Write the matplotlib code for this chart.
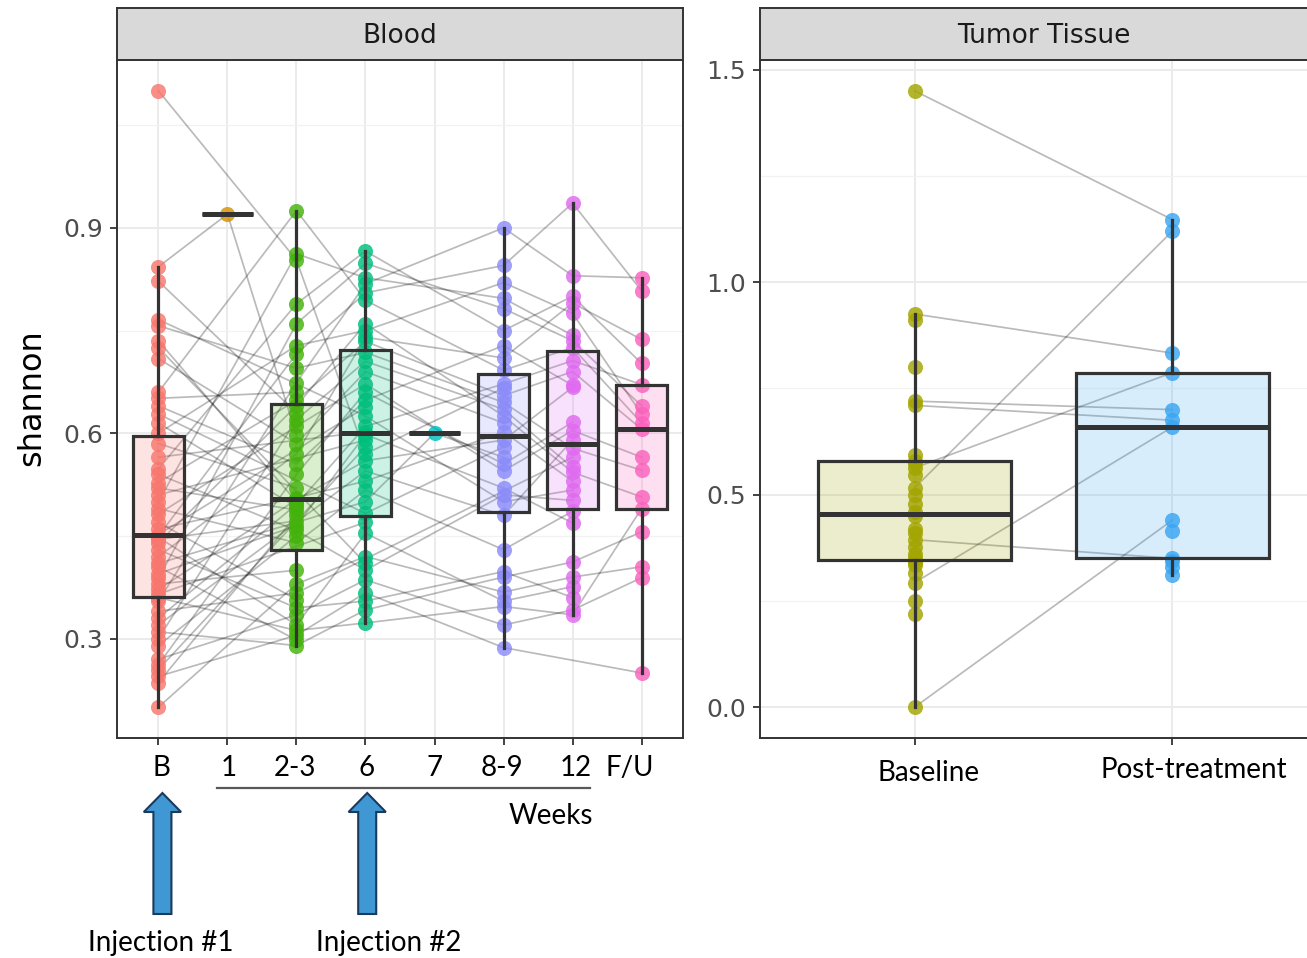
import numpy as np
import matplotlib
matplotlib.use("Agg")
import matplotlib.pyplot as plt
from matplotlib.patches import FancyArrow
from matplotlib.lines import Line2D
from matplotlib.transforms import blended_transform_factory
from matplotlib.colors import to_rgba

# ---------------- data ----------------
blood_categories = ["B", "1", "2-3", "6", "7", "8-9", "12", "F/U"]
blood_colors = ["#F8766D", "#D89000", "#44B20C", "#00BF7D",
                "#00BFC4", "#8C8CFA", "#E06AF0", "#FA62BC"]

# one entry per subject (None = no sample at that time point)
blood_B = [0.20, 0.236, 0.245, 0.255, 0.262, 0.27, 0.29, 0.30, 0.31, 0.32,
           0.33, 0.34, 0.355, 0.36, 0.365, 0.372, 0.38, 0.388, 0.395, 0.405,
           0.41, 0.42, 0.43, 0.44, 0.445, 0.448, 0.45, 0.452, 0.46, 0.47,
           0.482, 0.49, 0.50, 0.51, 0.52, 0.528, 0.54, 0.548, 0.565, 0.585,
           0.60, 0.615, 0.628, 0.64, 0.651, 0.66, 0.709, 0.725, 0.735, 0.757,
           0.766, 0.822, 0.843, 1.10]
blood_wk1 = [None] * 52 + [0.92, None]
blood_wk2_3 = [0.38, 0.48, 0.305, None, 0.54, 0.335, 0.45, 0.62, 0.29, None,
               0.496, 0.367, 0.674, 0.312, None, 0.503, 0.40, 0.76, 0.465, 0.298,
               None, 0.57, 0.345, 0.64, 0.472, 0.32, 0.716, None, 0.506, 0.357,
               0.61, 0.44, 0.862, None, 0.488, 0.648, 0.458, 0.789, None, 0.52,
               0.728, 0.492, None, 0.555, 0.66, 0.925, 0.585, None, 0.50, 0.695,
               None, 0.63, 0.597, 0.853]
blood_wk6 = [0.42, None, 0.367, 0.58, 0.66, 0.386, None, 0.705, 0.342, 0.545,
             0.61, None, 0.818, 0.323, 0.47, 0.56, None, 0.848, 0.598, None,
             0.50, 0.74, 0.355, 0.76, None, 0.454, 0.805, 0.638, 0.53, None,
             0.672, 0.517, 0.827, 0.59, None, 0.734, 0.40, 0.866, 0.602, None,
             0.75, None, 0.483, 0.648, None, 0.794, 0.69, 0.41, None, 0.718,
             0.625, None, None, 0.57]
blood_wk7 = [None] * 20 + [0.60] + [None] * 33
blood_wk8_9 = [0.368, None, 0.287, None, 0.555, 0.32, None, 0.635, 0.39, 0.48,
               0.672, None, 0.90, 0.347, None, 0.59, None, 0.782, 0.52, None,
               0.565, 0.71, 0.398, 0.625, None, 0.355, 0.845, None, 0.602, None,
               0.545, 0.43, 0.797, None, None, 0.655, 0.51, 0.75, None, None,
               0.82, None, 0.58, 0.728, None, 0.692, 0.615, None, None, 0.645,
               0.50, None, None, 0.666]
blood_wk12 = [0.39, None, None, None, 0.616, 0.342, None, 0.55, 0.412, 0.59,
              0.706, 0.565, 0.83, 0.335, None, 0.667, None, 0.735, 0.469, None,
              None, 0.79, 0.36, 0.543, None, 0.376, 0.936, None, 0.53, None,
              0.604, 0.486, 0.743, None, None, 0.69, 0.502, 0.80, None, None,
              0.775, None, None, 0.67, None, 0.725, None, None, None, 0.578,
              0.517, None, None, None]
blood_fu = [0.405, None, 0.25, None, None, 0.389, None, None, 0.456, None,
            0.671, None, 0.827, 0.49, None, None, None, 0.64, None, None,
            None, 0.737, None, 0.507, None, None, 0.808, None, None, None,
            0.565, None, None, None, None, 0.606, None, 0.702, None, None,
            0.628, None, None, None, None, 0.615, None, None, None, 0.546,
            None, None, None, None]

tumor_categories = ["Baseline", "Post-treatment"]
tumor_colors = ["#A3A500", "#3AA6F2"]
tumor_baseline = [1.45, 0.925, 0.91, 0.80, 0.72, 0.71, 0.594, 0.58, 0.574, 0.563,
                  0.547, 0.516, 0.50, 0.477, 0.458, 0.45, 0.418, 0.41, 0.394, 0.376,
                  0.36, 0.35, 0.345, 0.342, 0.335, 0.315, 0.293, 0.249, 0.22, 0.0,
                  None, None, None, None]
tumor_post = [1.147, 0.833, None, None, 0.70, 0.675, None, None, None, 0.787,
              None, 1.12, None, None, None, None, None, None, 0.35, None,
              None, None, None, None, None, None, 0.659, None, None, 0.44,
              0.31, 0.33, 0.345, 0.415]

blood_yticks = [0.3, 0.6, 0.9]
tumor_yticks = [0.0, 0.5, 1.0, 1.5]

# ---------------- layout helpers ----------------
W, H = 1307, 958
fig = plt.figure(figsize=(W / 100, H / 100), dpi=100)
fig.patch.set_facecolor("white")


def fx(px):
    return px / W


def fy(py):
    return 1 - py / H


axL = fig.add_axes([fx(117), fy(738), fx(683) - fx(117), fy(60) - fy(738)])
axR = fig.add_axes([fx(760), fy(738), fx(1327) - fx(760), fy(60) - fy(738)])

EDGE = "#333333"
TICKFONT = "DejaVu Sans"
ANNOTFONT = "Lato"
ANNOTSIZE = 20


def panel(ax, series, colors, yticks, ystep):
    allv = [v for s in series for v in s if v is not None]
    lo, hi = min(allv), max(allv)
    pad = 0.05 * (hi - lo)
    n = len(series)
    ax.set_facecolor("white")
    for sp in ax.spines.values():
        sp.set_color(EDGE)
        sp.set_linewidth(1.4)
    ax.set_xticks(range(n))
    ax.set_yticks(yticks)
    ax.set_yticklabels([f"{t:.1f}" for t in yticks], family=TICKFONT)
    minor = [t + ystep / 2 for t in [yticks[0] - ystep] + list(yticks)]
    ax.set_yticks(minor, minor=True)
    ax.grid(True, which="major", color="#EBEBEB", lw=1.4)
    ax.grid(True, which="minor", axis="y", color="#F2F2F2", lw=0.9)
    ax.set_axisbelow(True)
    ax.tick_params(which="major", length=5, width=1.3, color=EDGE,
                   labelsize=18, labelcolor="#4D4D4D", pad=5,
                   labelbottom=False)
    ax.tick_params(which="minor", length=0)

    # subject lines
    nsub = len(series[0])
    for s in range(nsub):
        xs = [i for i in range(n) if series[i][s] is not None]
        ys = [series[i][s] for i in xs]
        if len(xs) > 1:
            ax.plot(xs, ys, color="black", alpha=0.27, lw=1.25, zorder=1,
                    solid_capstyle="round")
    # points
    groups = []
    for i in range(n):
        vals = [v for v in series[i] if v is not None]
        groups.append(vals)
        ax.scatter([i] * len(vals), vals, s=118, color=colors[i], alpha=0.82,
                   lw=0, zorder=2)
    # boxes
    bp = ax.boxplot(groups, positions=list(range(n)), widths=0.75,
                    patch_artist=True, showfliers=False, showcaps=False,
                    whis=1.5, zorder=3,
                    boxprops=dict(linewidth=2.3, edgecolor=EDGE),
                    whiskerprops=dict(color=EDGE, linewidth=2.3),
                    medianprops=dict(color=EDGE, linewidth=3.6,
                                     solid_capstyle="butt"))
    for patch, c in zip(bp["boxes"], colors):
        patch.set_facecolor(to_rgba(c, 0.2))
    ax.set_xticks(range(n))
    # limits last (setting ticks can widen them)
    ax.set_xlim(-0.6, n - 1 + 0.6)
    ax.set_ylim(lo - pad, hi + pad)


blood_series = [blood_B, blood_wk1, blood_wk2_3, blood_wk6, blood_wk7,
                blood_wk8_9, blood_wk12, blood_fu]
panel(axL, blood_series, blood_colors, blood_yticks, 0.3)
panel(axR, [tumor_baseline, tumor_post], tumor_colors, tumor_yticks, 0.5)


# ---------------- strips ----------------
def strip(x0, x1, label):
    sax = fig.add_axes([fx(x0), fy(60), fx(x1) - fx(x0), fy(8) - fy(60)])
    sax.set_facecolor("#D9D9D9")
    sax.set_xticks([])
    sax.set_yticks([])
    for sp in sax.spines.values():
        sp.set_color(EDGE)
        sp.set_linewidth(1.4)
    sax.text(0.5, 0.47, label, ha="center", va="center", fontsize=19,
             color="#1A1A1A", family=TICKFONT, transform=sax.transAxes)


strip(117, 683, "Blood")
strip(760, 1327, "Tumor Tissue")

# y axis title
fig.text(fx(32), fy(398), "shannon", rotation=90, ha="center", va="center",
         fontsize=23, color="black", family=TICKFONT)

# ---------------- annotations (categorical labels, arrows) ----------------
trL = blended_transform_factory(axL.transData, fig.transFigure)
trR = blended_transform_factory(axR.transData, fig.transFigure)

label_dx = [0.04, 0.02, -0.02, 0.02, 0.0, -0.03, 0.04, -0.17]
for i, (lab, dx) in enumerate(zip(blood_categories, label_dx)):
    axL.text(i + dx, fy(776), lab, transform=trL, ha="center", va="baseline",
             fontsize=ANNOTSIZE, family=ANNOTFONT, color="black", clip_on=False)

tumor_label_pos = [(0.054, 781), (1.085, 778)]
for lab, (xd, yb) in zip(tumor_categories, tumor_label_pos):
    axR.text(xd, fy(yb), lab, transform=trR, ha="center", va="baseline",
             fontsize=ANNOTSIZE, family=ANNOTFONT, color="black", clip_on=False)

fig.add_artist(Line2D([0.855, 6.246], [fy(788), fy(788)], transform=trL,
                      color="#595959", lw=1.6))
axL.text(5.68, fy(824), "Weeks", transform=trL, ha="center", va="baseline",
         fontsize=ANNOTSIZE, family=ANNOTFONT, color="black", clip_on=False)

for xa in [0.058, 3.025]:
    arr = FancyArrow(xa, fy(914), 0, fy(793) - fy(914), width=0.261,
                     head_width=0.54, head_length=19 / H,
                     length_includes_head=True, transform=trL,
                     facecolor="#3F98D4", edgecolor="#1B3A5C", lw=1.5)
    fig.add_artist(arr)

for lab, xd in [("Injection #1", 0.03), ("Injection #2", 3.33)]:
    axL.text(xd, fy(951), lab, transform=trL, ha="center", va="baseline",
             fontsize=ANNOTSIZE, family=ANNOTFONT, color="black", clip_on=False)

fig.savefig("out.png", dpi=100)
